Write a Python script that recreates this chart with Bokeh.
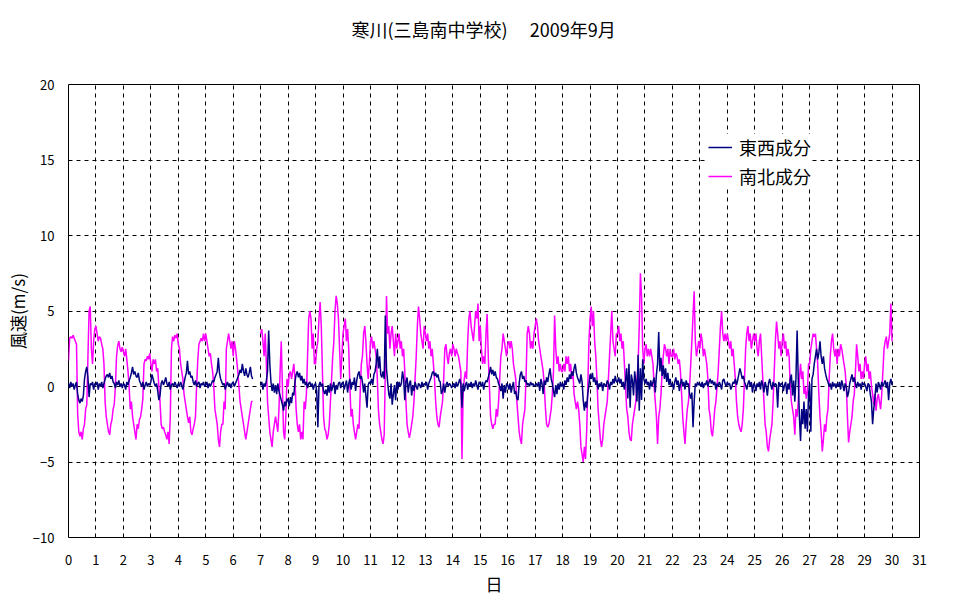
from bokeh.plotting import figure
from bokeh.models import Range1d, FixedTicker, Legend, LegendItem, Title
from bokeh.embed import file_html
from bokeh.resources import INLINE

NaN = float("nan")

TITLE = "寒川(三島南中学校)\u3000 2009年9月"
X_LABEL = "日"
Y_LABEL = "風速(m/s)"
NAME_EW = "東西成分"
NAME_NS = "南北成分"
X_TICKS = list(range(0, 32))
Y_TICKS = [-10, -5, 0, 5, 10, 15, 20]

# ---- 南北成分 (north-south component), hourly readings, one list per day ----
ns_d00 = [1.7, 3.2, 3.3, 3.2, 3.4, 3.2, 3.0, 2.8, -1.8, -3.0, -3.3, -3.0, -3.5, -2.8, -2.5, -1.5, -1.2, 2.0, 5.0, 5.3, 2.5, 1.5, 3.0, 3.8]
ns_d01 = [4.0, 3.5, 3.0, 3.3, 3.2, 2.8, 2.5, 1.5, -1.0, -2.0, -2.5, -3.0, -3.2, -2.5, -2.2, -1.5, -1.2, 0.0, 2.0, 2.7, 3.0, 2.5, 2.3, 2.6]
ns_d02 = [2.3, 2.0, 2.5, 1.8, 1.0, 0.0, -1.5, -1.0, -2.0, -2.5, -3.0, -3.5, -2.5, -2.8, -2.2, -2.0, -1.5, -0.8, 1.5, 1.8, 1.7, 2.0, 1.8, 2.2]
ns_d03 = [1.5, 1.0, 1.8, 1.5, 1.8, 1.0, 1.2, 0.0, -1.0, -2.5, -2.8, -2.7, -3.0, -3.2, -3.5, -3.0, -3.8, -2.0, 2.5, 3.3, 3.0, 3.4, 3.2, 3.5]
ns_d04 = [2.8, 2.5, 1.5, 1.0, 0.5, -0.5, -1.0, -1.5, -2.0, -2.4, -2.0, -3.0, -3.2, -2.8, -2.5, -2.0, 0.0, 1.7, 2.8, 3.0, 3.2, 3.0, 3.5, 3.0]
ns_d05 = [3.5, 3.0, 2.5, 2.0, 2.2, 1.5, 1.0, 0.0, -1.5, -2.0, -2.5, -3.5, -4.0, -3.0, -2.5, -2.5, -1.0, -1.5, 2.5, 3.0, 3.5, 3.0, 2.5, 3.0]
ns_d06 = [2.0, 3.0, 2.5, 1.8, 1.0, 0.0, -1.0, -1.5, -2.0, -2.5, -3.0, -3.5, -3.0, -2.5, -2.0, -1.5, -1.0, -1.0, NaN, NaN, NaN, NaN, NaN, NaN]
ns_d07 = [3.5, 3.8, 3.0, 2.0, 3.5, 1.5, -1.0, -2.0, -3.0, -3.5, -4.0, -3.0, -2.5, -2.0, -2.5, -3.0, -1.5, 1.0, 3.0, 0.0, -3.0, -3.5, -2.0, 0.5]
ns_d08 = [0.0, 0.8, 1.0, 0.5, 1.0, 1.5, 0.5, -1.5, -2.5, -3.0, -2.5, -3.5, -3.0, -3.5, -1.0, -1.5, -0.5, 2.0, 4.5, 5.0, 4.5, 2.5, 3.5, 1.5]
ns_d09 = [1.5, 2.5, 3.0, 4.5, 5.6, 4.0, 1.0, -2.0, -2.8, -3.0, -3.5, -3.2, -2.5, -1.0, 0.5, 2.0, 3.0, 5.0, 6.0, 5.5, 4.5, 2.5, 0.5, 2.0]
ns_d10 = [3.5, 4.0, 4.5, 3.0, 3.8, 2.5, 0.0, -2.0, -1.5, -2.5, -3.0, -3.5, -3.0, -2.5, -2.8, -0.5, 1.5, 2.0, 3.5, 4.0, 3.0, 1.5, 0.5, 1.5]
ns_d11 = [3.0, 3.3, 2.5, 3.0, 2.5, 2.0, 0.5, -1.6, -2.5, -3.0, -3.5, -3.8, -3.2, 1.0, 6.0, 3.5, 4.0, 2.5, 3.5, 4.0, 3.0, 2.0, 3.5, 2.5]
ns_d12 = [3.0, 3.5, 2.5, 3.0, 2.0, 2.5, 1.0, -1.0, -2.5, -3.0, -3.4, -3.0, -2.5, -2.0, -1.0, 0.5, 2.0, 4.0, 5.3, 4.5, 3.5, 3.0, 2.5, 4.0]
ns_d13 = [3.5, 3.0, 3.5, 2.5, 3.0, 2.0, 2.5, 1.5, 0.5, -1.0, -2.0, -2.5, -2.7, -2.0, -1.5, -1.0, 0.5, 2.5, 2.8, 2.0, 1.5, 2.2, 2.5, 2.0]
ns_d14 = [2.8, 2.5, 2.0, 2.5, 2.2, 2.0, 1.5, 1.0, -4.8, -0.5, 0.5, 1.0, 0.5, 3.0, 4.5, 5.0, 4.0, 3.5, 3.0, 4.0, 5.0, 4.5, 5.5, 3.0]
ns_d15 = [4.0, 2.5, 1.5, 2.0, 1.5, 3.5, 4.8, 2.0, 0.0, -2.0, -2.5, -2.8, -2.5, -2.5, -1.5, -2.0, -1.0, 0.5, 2.0, 2.5, 3.5, 3.0, 2.5, 2.0]
ns_d16 = [2.8, 3.0, 2.5, 3.0, 2.5, 1.5, 1.0, 0.5, -1.0, -2.0, -3.0, -3.5, -3.8, -2.5, -2.0, -1.5, 0.5, 3.5, 4.0, 3.5, 2.5, 3.0, 2.5, 3.5]
ns_d17 = [4.0, 4.5, 4.0, 3.0, 2.5, 2.0, 1.5, 1.0, 0.0, -1.5, -2.5, -2.7, -2.5, -2.0, -1.5, -0.5, 1.0, 4.7, 2.5, 1.5, 2.0, 1.0, 1.5, 1.0]
ns_d18 = [1.0, 1.5, 1.0, 2.0, 1.5, 2.0, 1.0, 1.5, 0.5, 1.0, -0.5, -1.0, -1.5, -1.0, -1.5, -2.5, -4.0, -4.5, -5.0, -4.0, -4.8, -3.0, 0.0, 3.0]
ns_d19 = [4.5, 5.3, 4.0, 5.0, 3.0, 2.0, 0.5, -1.5, -2.5, -3.5, -4.0, -3.5, -2.5, -2.0, -1.5, -1.0, 0.5, 2.0, 3.5, 5.0, 3.0, 2.5, 2.0, 3.5]
ns_d20 = [3.5, 4.0, 3.0, 3.5, 2.5, 3.0, 1.5, 0.0, -1.5, -2.0, -3.0, -3.5, -3.6, -2.5, -2.0, -1.5, -1.0, 0.5, 1.5, 4.0, 7.5, 6.0, 2.5, 1.5]
ns_d21 = [2.5, 2.8, 2.0, 2.5, 2.0, 2.5, 2.0, 1.5, 0.0, -1.0, -2.0, -3.8, -2.0, -1.5, -0.5, 1.0, 2.0, 2.8, 2.5, 2.0, 2.5, 1.5, 2.5, 2.0]
ns_d22 = [2.0, 2.5, 1.8, 2.2, 2.0, 1.5, 1.8, 1.0, -0.5, -2.0, -3.0, -3.8, -2.5, -1.5, -1.0, 0.0, 1.5, 3.0, 4.7, 6.3, 3.0, 2.0, 2.5, 3.0]
ns_d23 = [2.5, 3.5, 3.0, 2.0, 2.5, 2.0, 1.5, 0.5, -1.5, -2.0, -3.0, -3.3, -2.5, -1.5, -1.0, 0.0, 1.0, 2.5, 4.0, 5.0, 3.5, 3.0, 3.5, 3.0]
ns_d24 = [3.5, 3.0, 2.5, 3.0, 2.0, 2.5, 1.5, 0.5, -1.0, -2.0, -2.5, -2.8, -3.0, -2.5, -1.5, 0.5, 2.5, 3.5, 4.0, 3.0, 3.5, 2.5, 3.0, 3.5]
ns_d25 = [3.0, 3.5, 2.5, 2.0, 3.0, 3.5, 2.0, 0.5, -1.0, -2.5, -3.0, -4.0, -4.3, -3.5, -3.0, -2.5, -1.0, 1.0, 3.0, 4.3, 3.5, 2.5, 3.0, 2.0]
ns_d26 = [3.0, 3.5, 2.5, 3.0, 2.0, 2.5, 2.0, 0.0, -1.0, -1.5, -2.0, -3.2, -1.5, -2.0, -1.0, 0.5, 1.5, 0.5, 1.0, -0.5, 0.0, -0.8, -0.3, 1.5]
ns_d27 = [1.5, 2.5, 3.0, 3.5, 3.3, 3.5, 2.5, 1.5, -0.5, -2.0, -3.0, -4.3, -3.5, -2.5, -3.0, -2.0, -1.5, 0.5, 2.0, 3.0, 3.5, 2.5, 2.0, 2.5]
ns_d28 = [1.5, 2.5, 2.0, 2.8, 2.5, 2.0, 1.5, 1.0, 0.0, -2.0, -3.7, -3.0, -2.5, -2.0, -1.0, -0.5, 1.0, 2.8, 2.0, 1.0, 1.5, 0.5, 1.0, 0.5]
ns_d29 = [1.5, 2.0, 1.0, 1.5, 0.5, 1.0, 0.0, -0.5, -1.2, -0.5, -1.6, -0.8, -0.5, -1.0, -1.5, -0.5, 1.0, 2.5, 3.0, 3.3, 2.5, 3.0, 3.5, 5.5]
ns_end = [3.0]

# ---- 東西成分 (east-west component), hourly readings, one list per day ----
ew_d00 = [0.2, -0.1, 0.3, 0.0, 0.2, -0.2, 0.1, 0.3, -0.5, -0.9, -1.1, -0.8, -1.0, -0.6, 0.5, 1.0, 1.3, 0.6, -0.7, 0.2, 0.1, 0.3, -0.2, 0.2]
ew_d01 = [0.1, 0.3, -0.2, 0.2, 0.0, 0.3, -0.1, 0.2, 0.5, 0.7, 0.8, 0.6, 0.9, 0.5, 0.7, 0.3, 0.2, -0.1, 0.3, 0.1, 0.4, 0.0, 0.2, -0.1]
ew_d02 = [0.2, 0.1, -0.2, 0.3, 0.1, 0.4, 0.6, 0.9, 1.3, 0.8, 1.0, 0.7, 0.6, 0.9, 0.4, 0.2, 0.0, 0.3, -0.2, 0.1, 0.3, 0.0, 0.2, 0.1]
ew_d03 = [0.3, 0.8, 0.5, 0.2, 0.0, 0.2, -0.3, -0.9, -0.6, 0.2, 0.4, 0.1, 0.3, 0.6, 0.2, 0.0, 0.3, -0.2, 0.1, 0.2, 0.0, 0.3, 0.1, -0.1]
ew_d04 = [0.2, 0.0, 0.3, 0.1, -0.2, 0.2, 0.6, 0.9, 1.7, 0.8, 1.0, 0.6, 0.7, 0.3, 0.1, 0.4, 0.0, 0.2, 0.3, -0.1, 0.2, 0.1, 0.3, 0.0]
ew_d05 = [0.1, 0.3, -0.1, 0.2, 0.0, 0.2, 0.4, 0.3, 0.6, 0.8, 1.0, 1.9, 0.9, 0.5, 0.3, 0.1, 0.2, -0.2, 0.1, 0.3, 0.0, 0.2, -0.1, 0.2]
ew_d06 = [0.3, 0.0, 0.2, 0.4, 0.6, 0.8, 1.1, 0.9, 1.5, 1.0, 0.7, 1.2, 0.8, 0.6, 0.9, 1.3, 0.7, 0.5, NaN, NaN, NaN, NaN, NaN, NaN]
ew_d07 = [0.1, 0.3, -0.2, 0.2, 0.0, 0.4, 1.0, 3.7, 1.5, 0.3, -0.3, 0.2, -0.4, 0.1, -0.5, 0.2, -0.3, -0.6, -0.9, -1.2, -1.6, -1.0, -1.3, -0.8]
ew_d08 = [-0.9, -1.3, -0.7, -1.1, -0.4, -0.6, 0.3, 0.8, 1.0, 0.6, 0.9, 0.4, 0.7, 0.2, 0.5, 0.1, 0.3, -0.1, 0.2, 0.3, 0.0, 0.2, -0.2, 0.1]
ew_d09 = [0.2, -0.3, -2.7, 0.1, 0.3, 0.0, 0.2, -0.3, -0.5, -0.2, -0.6, 0.1, -0.4, 0.2, -0.3, 0.0, 0.3, -0.5, 0.1, -0.2, 0.2, 0.3, -0.1, 0.2]
ew_d10 = [0.3, -0.2, 0.1, 0.4, -0.4, 0.2, 0.5, -0.2, 0.3, 0.1, 0.6, -0.3, 0.4, 0.8, 1.0, 0.5, 0.7, 0.3, -0.4, 0.2, -0.6, -1.4, 0.1, 0.3]
ew_d11 = [0.2, 0.5, 0.1, 0.8, 1.0, 1.5, 2.5, 1.2, 2.0, 0.8, 0.6, 1.0, 0.5, 4.7, 1.2, 0.3, -0.5, -0.8, 0.2, -1.2, -0.5, 0.1, -0.9, 0.3]
ew_d12 = [-0.2, 0.3, 0.0, 0.2, 1.0, 0.5, -0.9, 0.3, 0.6, -0.4, 0.2, 0.4, -0.6, 0.1, -0.3, 0.3, 0.0, -0.2, 0.2, 0.1, -0.1, 0.3, 0.0, 0.2]
ew_d13 = [0.1, 0.3, -0.2, 0.2, 0.4, 0.6, 0.9, 1.0, 0.7, 0.9, 0.6, 0.8, 0.4, 0.3, -0.5, -0.3, 0.2, -0.4, 0.1, 0.3, 0.0, 0.2, 0.1, -0.1]
ew_d14 = [0.1, 0.2, -0.1, 0.3, 0.0, 0.2, 0.5, 0.2, -1.4, 0.2, -0.3, 0.1, 0.3, -0.2, 0.2, 0.0, 0.3, -0.1, 0.2, 0.0, 0.4, 0.1, -0.2, 0.3]
ew_d15 = [0.2, 0.0, 0.3, -0.2, 0.2, 0.4, 0.3, 0.6, 0.9, 1.3, 0.8, 1.1, 0.7, 1.0, 0.6, 0.5, 0.2, 0.0, -0.3, 0.2, -0.8, 0.1, -0.4, 0.2]
ew_d16 = [0.1, -0.2, 0.2, -0.4, 0.0, 0.3, -0.5, -0.3, -0.8, -0.9, 0.2, 0.8, 1.0, 0.5, 0.7, 0.3, 0.4, 0.1, 0.2, 0.0, 0.3, 0.1, 0.2, 0.0]
ew_d17 = [0.1, 0.2, 0.0, 0.3, -0.3, 0.5, 0.2, -0.5, 0.4, 0.1, 0.6, 0.3, 0.8, 1.2, 0.5, 0.2, -0.3, -0.7, 0.1, -0.5, 0.2, -0.2, 0.3, 0.0]
ew_d18 = [0.2, -0.2, 0.4, 0.1, 0.6, 0.3, 0.8, 0.5, 1.0, 0.7, 1.2, 1.5, 0.9, 0.6, 0.4, 0.2, 0.8, 0.3, -0.9, -1.6, -1.0, -1.4, -0.5, 0.1]
ew_d19 = [0.8, 0.5, 0.9, 0.3, 0.6, 0.1, 0.4, -0.2, 0.2, 0.0, 0.3, -0.3, 0.2, 0.1, 0.0, 0.4, 0.2, -0.2, 0.3, 0.1, 0.5, 0.2, 0.7, 0.3]
ew_d20 = [0.3, 0.6, 0.2, 0.5, 0.0, 0.3, -0.2, 0.4, 1.2, -0.8, 1.5, -1.4, 0.8, 0.4, -0.6, 1.0, 0.3, -1.0, 2.1, -1.6, 1.2, -0.9, 1.8, 0.5]
ew_d21 = [0.2, 0.5, 0.1, 0.3, -0.2, 0.4, 0.0, 0.3, 0.6, -0.4, 0.8, 1.5, 3.6, 1.0, 1.9, 0.7, 1.4, 0.5, 1.2, 0.3, 0.9, 0.1, 0.5, 0.0]
ew_d22 = [0.2, -0.2, 0.3, 0.6, 0.1, 0.4, -0.3, 0.2, 0.5, 0.0, 0.3, -0.2, 0.4, 0.1, 0.2, -0.5, -0.8, -0.4, -2.7, -1.0, 0.2, 0.0, 0.3, 0.1]
ew_d23 = [0.2, 0.0, 0.3, -0.1, 0.2, 0.1, 0.4, 0.0, 0.3, 0.5, 0.2, 0.4, 0.1, 0.3, -0.2, 0.2, 0.0, 0.3, 0.1, -0.2, 0.4, 0.5, 0.2, 0.0]
ew_d24 = [0.3, 0.1, 0.2, -0.2, 0.0, 0.3, 0.2, 0.5, 0.1, 0.4, 0.8, 1.2, 0.9, 0.5, 0.7, 0.3, 0.1, -0.2, 0.2, 0.4, 0.0, 0.3, -0.4, 0.2]
ew_d25 = [0.1, -0.3, 0.2, 0.0, 0.3, -0.2, 0.4, 0.1, -0.4, 0.3, 0.0, -0.6, 0.2, 0.5, 0.1, -0.2, 0.3, 0.0, 0.2, 0.1, -1.4, 0.3, 0.0, 0.2]
ew_d26 = [0.2, -0.3, 0.1, 0.3, -0.5, 0.2, -0.2, 0.5, 0.8, -0.6, 0.4, -1.0, 0.6, 3.7, 0.5, -2.0, -3.6, -1.5, -2.5, -1.0, -2.8, -1.5, -3.0, -0.5]
ew_d27 = [0.2, -3.0, 0.5, 0.8, 1.5, 2.0, 2.5, 1.8, 2.2, 3.0, 2.0, 1.5, 2.0, 1.2, 0.8, 0.5, 0.3, 0.0, 0.2, -0.2, 0.3, 0.0, 0.2, -0.1]
ew_d28 = [0.2, 0.0, 0.3, -0.2, 0.4, 0.1, -0.3, 0.2, 0.0, -0.7, -0.4, 0.2, 0.5, 0.8, 0.3, 0.6, 0.2, -0.1, 0.3, 0.0, 0.2, -0.2, 0.3, 0.1]
ew_d29 = [0.2, 0.0, -0.3, 0.2, 0.1, -0.5, -1.0, -2.5, -1.5, -0.8, 0.2, -0.4, 0.3, 0.1, -0.2, 0.3, 0.0, 0.2, 0.4, -0.1, 0.3, -0.9, 0.2, 0.5]
ew_end = [0.1]

ns_days = [ns_d00, ns_d01, ns_d02, ns_d03, ns_d04, ns_d05, ns_d06, ns_d07, ns_d08, ns_d09,
           ns_d10, ns_d11, ns_d12, ns_d13, ns_d14, ns_d15, ns_d16, ns_d17, ns_d18, ns_d19,
           ns_d20, ns_d21, ns_d22, ns_d23, ns_d24, ns_d25, ns_d26, ns_d27, ns_d28, ns_d29]
ew_days = [ew_d00, ew_d01, ew_d02, ew_d03, ew_d04, ew_d05, ew_d06, ew_d07, ew_d08, ew_d09,
           ew_d10, ew_d11, ew_d12, ew_d13, ew_d14, ew_d15, ew_d16, ew_d17, ew_d18, ew_d19,
           ew_d20, ew_d21, ew_d22, ew_d23, ew_d24, ew_d25, ew_d26, ew_d27, ew_d28, ew_d29]


def series(days, end):
    xs, ys = [], []
    for d, vals in enumerate(days):
        n = len(vals)
        for h, v in enumerate(vals):
            xs.append(d + h / n)
            ys.append(v)
    xs.append(float(len(days)))
    ys.extend(end)
    return xs, ys


ns_x, ns_y = series(ns_days, ns_end)
ew_x, ew_y = series(ew_days, ew_end)

JP = "Noto Sans CJK JP"

p = figure(width=962, height=600, output_backend="svg", toolbar_location=None,
           x_range=Range1d(0, 31), y_range=Range1d(-10, 20),
           min_border_left=68, min_border_right=43, min_border_top=84, min_border_bottom=63)
p.background_fill_color = "white"
p.border_fill_color = "white"
p.outline_line_color = "black"
p.outline_line_width = 1
p.outline_line_alpha = 1.0
p.title.text = ""

# empty spacer panel directly above the frame, then the title above it
spacer = Title(text="\u3000", text_font_size="1px", standoff=40)
p.add_layout(spacer, "above")
main_title = Title(text=TITLE, align="left", offset=283, vertical_align="bottom", standoff=0,
                   text_font=JP, text_font_size="18px", text_font_style="normal",
                   text_color="black")
p.add_layout(main_title, "above")

p.xaxis.ticker = FixedTicker(ticks=X_TICKS)
p.yaxis.ticker = FixedTicker(ticks=Y_TICKS)
for ax in (p.xaxis[0], p.yaxis[0]):
    ax.axis_line_color = None
    ax.major_tick_line_color = None
    ax.minor_tick_line_color = None
    ax.major_label_text_font = JP
    ax.major_label_text_font_size = "13px"
    ax.major_label_text_color = "black"
    ax.axis_label_text_font = JP
    ax.axis_label_text_font_size = "17px"
    ax.axis_label_text_font_style = "normal"
    ax.axis_label_text_color = "black"
p.xaxis.axis_label = X_LABEL
p.yaxis.axis_label = Y_LABEL
p.xaxis.major_label_standoff = 11
p.xaxis.axis_label_standoff = 3
p.yaxis.major_label_standoff = 8
p.yaxis.axis_label_standoff = 0

for g in (p.xgrid[0], p.ygrid[0]):
    g.grid_line_color = "black"
    g.grid_line_dash = "4 4"
    g.grid_line_width = 1
    g.grid_line_alpha = 1.0

r_ns = p.line(ns_x, ns_y, line_color="#FF00FF", line_width=1.5)
r_ew = p.line(ew_x, ew_y, line_color="#000080", line_width=1.5)

legend = Legend(items=[LegendItem(label=NAME_EW, renderers=[r_ew]),
                       LegendItem(label=NAME_NS, renderers=[r_ns])],
                location=(640, 348))
legend.label_text_font = JP
legend.label_text_font_size = "18px"
legend.label_text_color = "black"
legend.border_line_color = None
legend.background_fill_color = "white"
legend.background_fill_alpha = 1.0
legend.padding = 5
legend.spacing = 3
legend.margin = 0
legend.glyph_width = 24
legend.glyph_height = 20
legend.label_height = 20
legend.label_standoff = 7
p.add_layout(legend)

open("out.html", "w").write(file_html(p, INLINE))
